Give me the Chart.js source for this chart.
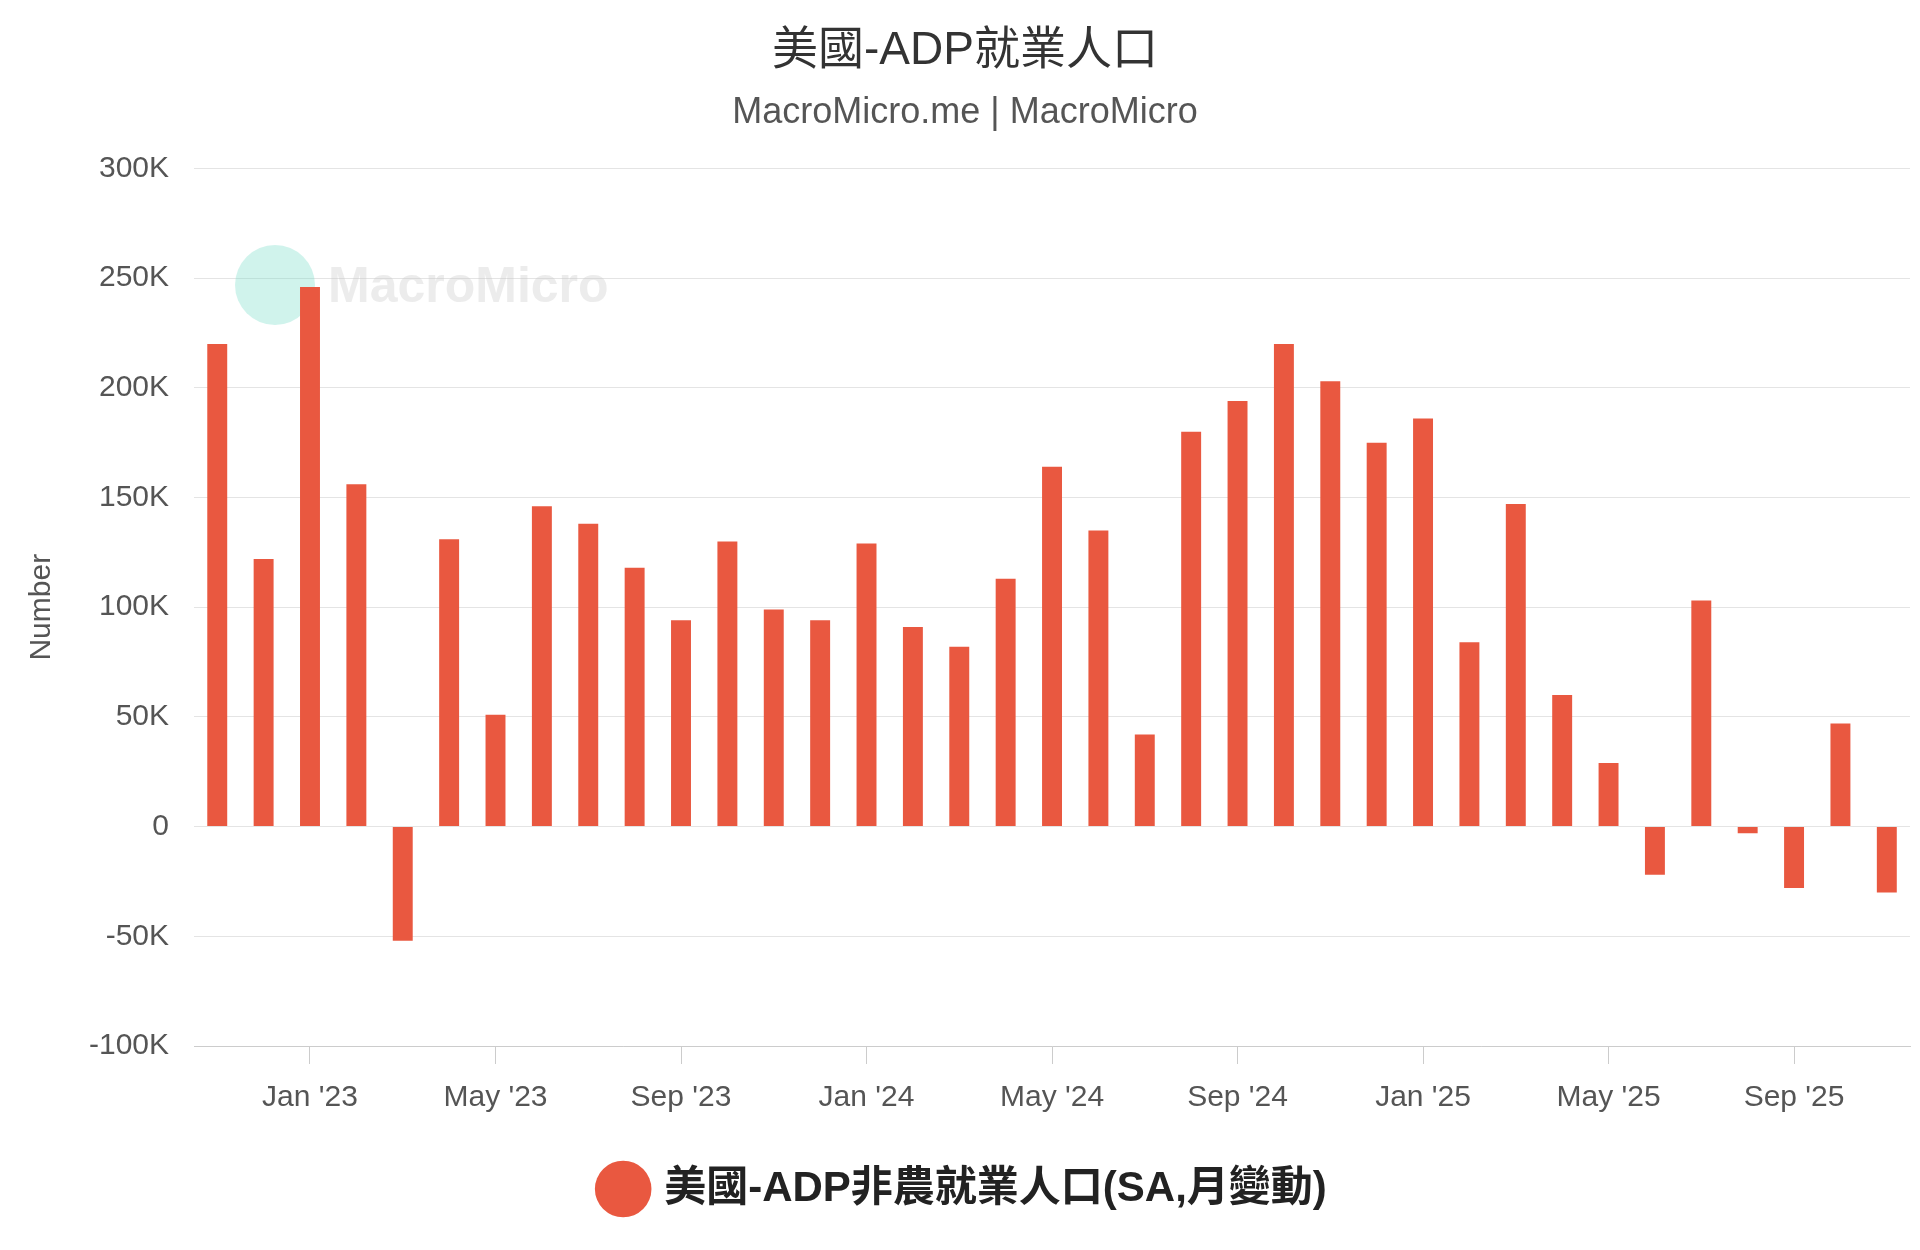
<!DOCTYPE html>
<html><head><meta charset="utf-8">
<script src="https://cdn.jsdelivr.net/npm/chart.js@4"></script>
<style>html,body{margin:0;background:#fff}#w{width:1920px;height:1250px}</style>
</head><body><div id="w"><canvas id="c"></canvas></div>
<script>
const months = ["Nov '22","Dec '22","Jan '23","Feb '23","Mar '23","Apr '23","May '23","Jun '23","Jul '23","Aug '23","Sep '23","Oct '23","Nov '23","Dec '23","Jan '24","Feb '24","Mar '24","Apr '24","May '24","Jun '24","Jul '24","Aug '24","Sep '24","Oct '24","Nov '24","Dec '24","Jan '25","Feb '25","Mar '25","Apr '25","May '25","Jun '25","Jul '25","Aug '25","Sep '25","Oct '25","Nov '25"];
const adpChange = [220000,122000,246000,156000,-52000,131000,51000,146000,138000,118000,94000,130000,99000,94000,129000,91000,82000,113000,164000,135000,42000,180000,194000,220000,203000,175000,186000,84000,147000,60000,29000,-22000,103000,-3000,-28000,47000,-30000];
const shownTicks = ["Jan","May","Sep"];
const isShown = l => shownTicks.includes(l.slice(0,3));
const font = "'Liberation Sans','Noto Sans CJK TC',sans-serif";
const wm = {id:'wm',beforeDatasetsDraw(ch){const c=ch.ctx;c.save();c.fillStyle='rgba(120,220,200,0.35)';c.beginPath();c.arc(275,285,40,0,Math.PI*2);c.fill();c.font="bold 50px "+font;c.fillStyle='rgba(200,200,200,0.35)';c.textBaseline='middle';c.fillText('MacroMicro',328,288);c.restore();}};
new Chart(document.getElementById('c'),{type:'bar',
data:{labels:months,datasets:[{label:'美國-ADP非農就業人口(SA,月變動)',data:adpChange,backgroundColor:'#e95840',barPercentage:0.43,categoryPercentage:1}]},
options:{responsive:true,maintainAspectRatio:false,animation:false,
layout:{padding:{left:20,right:10,top:24,bottom:30}},
plugins:{title:{display:true,text:'美國-ADP就業人口',font:{family:font,size:46,weight:'normal'},color:'#333',padding:{bottom:12}},
subtitle:{display:true,text:'MacroMicro.me | MacroMicro',font:{family:font,size:36},color:'#555',padding:{bottom:34}},
legend:{position:'bottom',labels:{usePointStyle:true,pointStyle:'circle',boxWidth:40,boxHeight:40,font:{family:font,size:42,weight:'bold'},color:'#222',padding:36}},tooltip:{enabled:false}},
scales:{x:{grid:{offset:false,drawOnChartArea:false,color:(c)=>isShown(months[c.index]||'')?'#ccc':'transparent',tickLength:18},border:{color:'#ccc'},
ticks:{autoSkip:false,maxRotation:0,padding:16,font:{family:font,size:30},color:'#555',callback:(v,i)=>isShown(months[i])?months[i]:''}},
y:{min:-100000,max:300000,ticks:{stepSize:50000,font:{family:font,size:30},color:'#555',padding:25,callback:v=>v===0?'0':(v/1000)+'K'},grid:{color:'#e4e4e4',drawTicks:false},border:{display:false},
title:{display:true,text:'Number',font:{family:font,size:30},color:'#555'}}}},
plugins:[wm]});
</script></body></html>
